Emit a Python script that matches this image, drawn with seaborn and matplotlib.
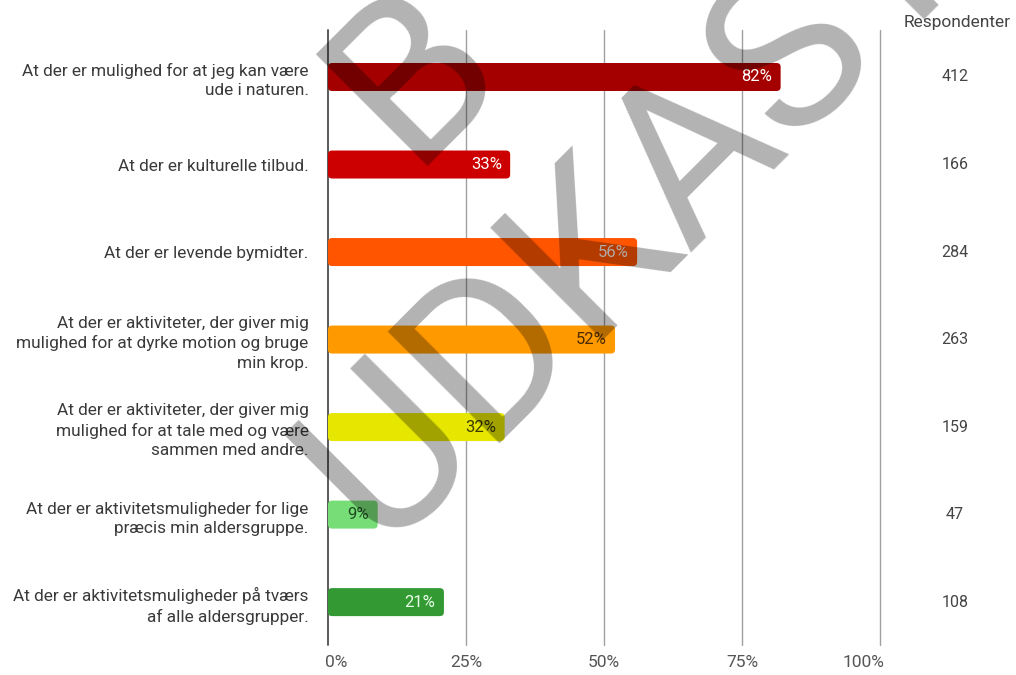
import matplotlib
matplotlib.use("Agg")
import matplotlib.pyplot as plt
import matplotlib.transforms as mtransforms
from matplotlib.patches import FancyBboxPatch
import seaborn as sns

categories = [
    "At der er mulighed for at jeg kan være\nude i naturen.",
    "At der er kulturelle tilbud.",
    "At der er levende bymidter.",
    "At der er aktiviteter, der giver mig\nmulighed for at dyrke motion og bruge\nmin krop.",
    "At der er aktiviteter, der giver mig\nmulighed for at tale med og være\nsammen med andre.",
    "At der er aktivitetsmuligheder for lige\npræcis min aldersgruppe.",
    "At der er aktivitetsmuligheder på tværs\naf alle aldersgrupper.",
]
values = [82, 33, 56, 52, 32, 9, 21]
respondents = [412, 166, 284, 263, 159, 47, 108]
bar_colors = ["#a50000", "#cc0000", "#ff5500", "#ff9900", "#e6e600", "#77dd77", "#339933"]
label_colors = ["#ffffff", "#ffffff", "#fff0e8", "#4a2a00", "#3a3a00", "#1f4a1f", "#e8ffe8"]
xticks = [0, 25, 50, 75, 100]
xticklabels = ["0%", "25%", "50%", "75%", "100%"]

sns.set_theme(style="white")
plt.rcParams["font.family"] = ["Roboto", "DejaVu Sans"]

fig = plt.figure(figsize=(10.16, 6.75), dpi=100)
ax = fig.add_axes([328 / 1016, 30 / 675, 552 / 1016, 615 / 675])

sns.barplot(x=values, y=categories, hue=categories, palette=bar_colors,
            orient="h", width=0.32, legend=False, ax=ax, saturation=1, zorder=3)

# rounded bars
rects = list(ax.patches)
for r in rects:
    x0, y0, w, h = r.get_x(), r.get_y(), r.get_width(), r.get_height()
    fc = r.get_facecolor()
    r.remove()
    p = FancyBboxPatch((x0, y0), w, h,
                       boxstyle="round,pad=0,rounding_size=0.75",
                       mutation_aspect=0.061, facecolor=fc, edgecolor="none",
                       zorder=3)
    ax.add_patch(p)

ax.set_xlim(0, 100)
ax.set_ylim(6.49, -0.537)

for xv in xticks:
    ax.axvline(xv, color="#5a5a5a" if xv == 0 else "#a0a0a0",
               lw=1.4 if xv == 0 else 1.0, zorder=1, clip_on=False)

for s in ax.spines.values():
    s.set_visible(False)

ax.set_xticks(xticks)
ax.set_xticklabels(xticklabels)
ax.set_yticks(range(len(categories)))
ax.set_yticklabels(categories, linespacing=1.36)
ax.tick_params(axis="x", length=0, pad=7, labelsize=12.5, labelcolor="#555555")
ax.tick_params(axis="y", length=0, pad=14, labelsize=12.4, labelcolor="#3a3a3a")
xl = ax.get_xticklabels()
xl[0].set_ha("left")
xl[-1].set_ha("right")
xl[-1].set_transform(xl[-1].get_transform() + mtransforms.ScaledTranslation(4 / 100, 0, fig.dpi_scale_trans))
xl[0].set_transform(xl[0].get_transform() + mtransforms.ScaledTranslation(-3 / 100, 0, fig.dpi_scale_trans))
ax.set_xlabel("")
ax.set_ylabel("")

# value labels inside bars
for i, (v, lc) in enumerate(zip(values, label_colors)):
    ax.annotate(f"{v}%", xy=(v, i), xytext=(-6, 0), textcoords="offset points",
                ha="right", va="center", fontsize=12, color=lc, zorder=4)

# respondent column
trans = mtransforms.blended_transform_factory(fig.transFigure, ax.transData)
fig.text(957 / 1016, 1 - 22 / 675, "Respondenter", ha="center", va="center",
         fontsize=12.5, color="#444444")
for i, n in enumerate(respondents):
    ax.text(955 / 1016, i, str(n), transform=trans, ha="center", va="center",
            fontsize=11.5, color="#444444")

# watermark
fig.text(678 / 1016, 1 - 250 / 675, "UDKAST", rotation=45, rotation_mode="anchor",
         ha="center", va="baseline", fontsize=160, color="black", alpha=0.3,
         fontweight="normal", zorder=10)
fig.text(410 / 1016, 1 - 166 / 675, "B", rotation=45, rotation_mode="anchor",
         ha="left", va="baseline", fontsize=160, color="black", alpha=0.3,
         fontweight="normal", zorder=10)

fig.savefig("out.png", dpi=100)
